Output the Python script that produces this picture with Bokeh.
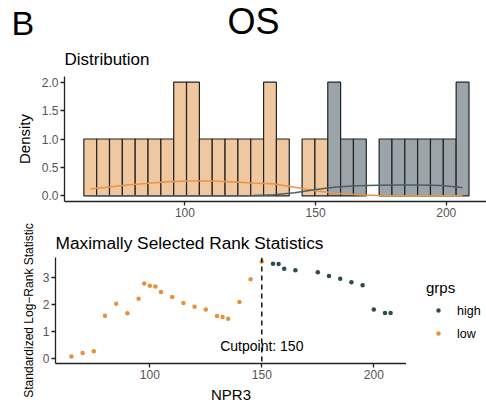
import numpy as np
from bokeh.plotting import figure
from bokeh.layouts import column, row
from bokeh.models import Range1d, Legend, LegendItem, Span, FixedTicker, PrintfTickFormatter
from bokeh.core.properties import value
from bokeh.embed import file_html
from bokeh.resources import INLINE

FONT = "Liberation Sans"

# ---------------- data ----------------
panel_letter = "B"
main_title = "OS"
dist_title = "Distribution"
stat_title = "Maximally Selected Rank Statistics"

# histogram (30 bins over NPR3 range)
hist_range = [61.3, 208.7]
low_counts = [1, 1, 1, 1, 1, 1, 1, 2, 2, 1, 1, 1, 1, 1, 2, 1, 0, 1, 1, 0,
              0, 0, 0, 0, 0, 0, 0, 0, 0, 0]
high_counts = [0, 0, 0, 0, 0, 0, 0, 0, 0, 0, 0, 0, 0, 0, 0, 0, 0, 0, 0, 2,
               1, 1, 0, 1, 1, 1, 1, 1, 1, 2]

# density curves
dens_x = [63.7, 70, 78, 86, 94, 102, 110, 118, 126, 134, 142, 150, 158, 166,
          174, 182, 190, 198, 206.2]
dens_low = [0.12, 0.15, 0.19, 0.22, 0.25, 0.26, 0.26, 0.245, 0.225, 0.21,
            0.15, 0.09, 0.045, 0.02, 0.006, 0.002, 0.0, 0.0, 0.0]
dens_high = [0.0, 0.0, 0.0, 0.0, 0.0, 0.0, 0.001, 0.002, 0.006, 0.02, 0.055,
             0.11, 0.155, 0.178, 0.187, 0.19, 0.19, 0.182, 0.146]

# maximally selected rank statistics
low_x = [65, 70, 75, 80, 85, 90, 95, 97.5, 100, 102.5, 105, 110, 115, 120,
         125, 130, 132.5, 135, 140, 145, 150]
low_y = [0.08, 0.21, 0.27, 1.58, 2.02, 1.67, 2.20, 2.76, 2.68, 2.65, 2.45,
         2.27, 2.05, 1.91, 1.81, 1.57, 1.53, 1.47, 2.08, 2.92, 3.57]
high_x = [155, 157.5, 160, 165, 175, 180, 185, 190, 195, 200, 205, 207.5]
high_y = [3.49, 3.48, 3.31, 3.25, 3.18, 3.04, 2.94, 2.81, 2.70, 1.81, 1.68, 1.68]
cutpoint = 150
group_names = ["high", "low"]

# ---------------- colours ----------------
LOW_FILL = "#F0C8A0"
HIGH_FILL = "#9BA5A9"
LOW_LINE = "#E8954A"
HIGH_LINE = "#4A5F63"
LOW_PT = "#E8913A"
HIGH_PT = "#2F4A4F"
AXIS_COL = "#222222"
TICK_TXT = "#555555"


def no_align(p):
    if "frame_align" in p.properties():
        p.frame_align = False


def style_axes(p):
    for ax in (p.xaxis[0], p.yaxis[0]):
        ax.axis_line_color = AXIS_COL
        ax.axis_line_width = 1.3
        ax.major_tick_line_color = AXIS_COL
        ax.major_tick_line_width = 1.3
        ax.major_tick_out = 4
        ax.major_tick_in = 0
        ax.minor_tick_line_color = None
        ax.major_label_text_font = FONT
        ax.major_label_text_font_size = "12px"
        ax.major_label_text_color = TICK_TXT
        ax.major_label_standoff = 2
        ax.axis_label_text_font = FONT
        ax.axis_label_text_font_size = "15px"
        ax.axis_label_text_font_style = "normal"
        ax.axis_label_text_color = "black"
    p.grid.visible = False
    p.outline_line_color = None
    p.background_fill_color = "white"
    p.border_fill_color = "white"
    no_align(p)


# ---------------- header (panel letter, main title, first subtitle) ----------------
hdr = figure(width=486, height=70, x_range=Range1d(0, 486), y_range=Range1d(70, 0),
             x_axis_type=None, y_axis_type=None, output_backend="svg",
             toolbar_location=None, min_border=0, title=None)
hdr.grid.visible = False
hdr.outline_line_color = None
no_align(hdr)
hdr.text(x=[11], y=[22.5], text=[panel_letter], text_font=value(FONT),
         text_font_size="34px", text_baseline="middle", text_align="left",
         text_color="black")
hdr.text(x=[253], y=[20.5], text=[main_title], text_font=value(FONT),
         text_font_size="36px", text_baseline="middle", text_align="center",
         text_color="black")
hdr.text(x=[64], y=[59], text=[dist_title], text_font=value(FONT),
         text_font_size="17px", text_baseline="middle", text_align="left",
         text_color="black")

# ---------------- distribution ----------------
edges = np.linspace(hist_range[0], hist_range[1], len(low_counts) + 1)
p1 = figure(width=486, height=151, x_range=Range1d(53.9, 215.4),
            y_range=Range1d(-0.1, 2.1), output_backend="svg", toolbar_location=None,
            min_border_left=64, min_border_right=0, min_border_top=6,
            min_border_bottom=20, title=None)
style_axes(p1)

lc = np.array(low_counts)
hc = np.array(high_counts)
m = lc > 0
p1.quad(left=edges[:-1][m], right=edges[1:][m], bottom=0, top=lc[m],
        fill_color=LOW_FILL, line_color=AXIS_COL, line_width=1.2)
m = hc > 0
p1.quad(left=edges[:-1][m], right=edges[1:][m], bottom=lc[m], top=(lc + hc)[m],
        fill_color=HIGH_FILL, line_color=AXIS_COL, line_width=1.2)
p1.line(dens_x, dens_low, line_color=LOW_LINE, line_width=1.6)
p1.line(dens_x, dens_high, line_color=HIGH_LINE, line_width=1.6)

p1.xaxis.ticker = FixedTicker(ticks=[100, 150, 200])
p1.yaxis.ticker = FixedTicker(ticks=[0, 0.5, 1, 1.5, 2])
p1.yaxis.formatter = PrintfTickFormatter(format="%.1f")
p1.yaxis.axis_label = "Density"
p1.yaxis.axis_label_standoff = 6

# ---------------- maxstat ----------------
p2 = figure(width=406, height=184, x_range=Range1d(57.9, 214.6),
            y_range=Range1d(-0.18, 3.72), output_backend="svg", toolbar_location=None,
            min_border_left=55, min_border_right=0, min_border_top=36,
            min_border_bottom=41, title=stat_title)
style_axes(p2)
p2.title.text_font = FONT
p2.title.text_font_style = "normal"
p2.title.text_color = "black"
p2.title.align = "left"
p2.title.text_font_size = "17.3px"

p2.scatter(high_x, high_y, size=4.5, fill_color=HIGH_PT, line_color=None)
p2.scatter(low_x, low_y, size=4.5, fill_color=LOW_PT, line_color=None)
p2.add_layout(Span(location=cutpoint, dimension="height", line_color="black",
                   line_dash="5 4", line_width=1.4))
p2.text(x=[cutpoint], y=[0.47], text=["Cutpoint: %d" % cutpoint],
        text_font=value(FONT), text_font_size="14px", text_align="center",
        text_baseline="middle", text_color="black")

p2.xaxis.ticker = FixedTicker(ticks=[100, 150, 200])
p2.yaxis.ticker = FixedTicker(ticks=[0, 1, 2, 3])
p2.xaxis.axis_label = "NPR3"
p2.xaxis.axis_label_standoff = 4
p2.yaxis.axis_label = "Standardized Log\u2212Rank Statistic"
p2.yaxis.axis_label_text_font_size = "12px"
p2.yaxis.axis_label_standoff = 4

# ---------------- legend panel ----------------
lg = figure(width=80, height=184, x_range=Range1d(0, 1), y_range=Range1d(0, 1),
            x_axis_type=None, y_axis_type=None, output_backend="svg",
            toolbar_location=None, min_border_left=10, min_border_right=0,
            min_border_top=36, min_border_bottom=41, title=None)
lg.grid.visible = False
lg.outline_line_color = None
no_align(lg)
# legend keys: one sample of each group, lying outside this panel's visible range
k_high = lg.scatter([high_x[0]], [high_y[0]], size=4.5, fill_color=HIGH_PT, line_color=None)
k_low = lg.scatter([low_x[0]], [low_y[0]], size=4.5, fill_color=LOW_PT, line_color=None)

legend = Legend(items=[LegendItem(label=group_names[0], renderers=[k_high]),
                       LegendItem(label=group_names[1], renderers=[k_low])],
                location="center_left", title="grps")
legend.title_text_font = FONT
legend.title_text_font_size = "15px"
legend.title_text_font_style = "normal"
legend.title_text_color = "black"
legend.title_standoff = 5
legend.label_text_font = FONT
legend.label_text_font_size = "12.5px"
legend.label_text_color = "black"
legend.label_standoff = 7
legend.glyph_width = 24
legend.glyph_height = 11
legend.label_height = 20
legend.spacing = 3
legend.padding = 11
legend.margin = 10
legend.border_line_color = None
legend.background_fill_color = None
lg.add_layout(legend)

layout = column(hdr, p1, row(p2, lg, spacing=0), spacing=0)
open("out.html", "w").write(file_html(layout, INLINE))
